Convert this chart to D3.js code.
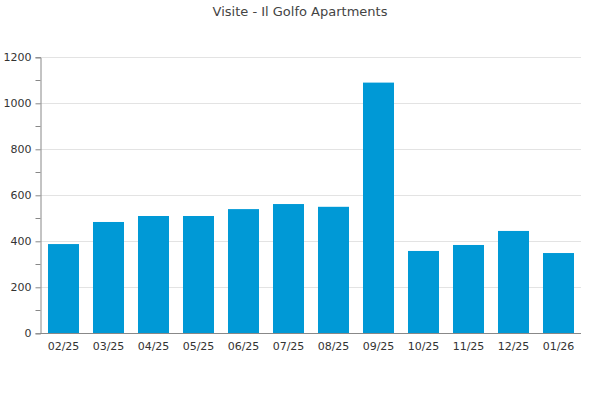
<!DOCTYPE html>
<html>
<head>
<meta charset="utf-8">
<script src="https://cdn.jsdelivr.net/npm/d3@7/dist/d3.min.js"></script>
<style>
  html, body { margin: 0; padding: 0; background: #fff; }
  svg { display: block; font-family: "DejaVu Sans", Verdana, sans-serif; }
</style>
</head>
<body>
<svg id="chart" width="600" height="400"></svg>
<script>
const categories = ["02/25","03/25","04/25","05/25","06/25","07/25","08/25","09/25","10/25","11/25","12/25","01/26"];
const visits = [388, 484, 510, 510, 540, 562, 550, 1090, 358, 384, 445, 349];
const yTicks = [0, 200, 400, 600, 800, 1000, 1200];
const yMinorTicks = [100, 300, 500, 700, 900, 1100];
const title = "Visite - Il Golfo Apartments";

(function () {
const svg = d3.select("#chart");
const pLeft = 41, pRight = 581, pTop = 57.3, pBottom = 333.3;

const x = d3.scaleBand().domain(categories).range([pLeft, pRight])
  .paddingInner(0.311).paddingOuter(0.1555);
const y = d3.scaleLinear().domain([0, 1200]).range([pBottom, pTop]);

// title
svg.append("text").attr("x", 300).attr("y", 16).attr("text-anchor", "middle")
  .attr("font-size", 13).attr("fill", "#444").text(title);

// gridlines
svg.append("g").selectAll("line").data(yTicks.filter(d => d > 0)).join("line")
  .attr("x1", 40).attr("x2", pRight).attr("y1", d => Math.round(y(d)) + 0.5).attr("y2", d => Math.round(y(d)) + 0.5)
  .attr("stroke", "#e3e3e3").attr("stroke-width", 1);

// bars
svg.append("g").selectAll("rect").data(visits).join("rect")
  .attr("x", (d, i) => x(categories[i]))
  .attr("width", x.bandwidth())
  .attr("y", d => y(d))
  .attr("height", d => y(0) - y(d))
  .attr("fill", "#0099d6");

// y axis
const yAxis = d3.axisLeft(y).tickValues(yTicks).tickSize(5).tickPadding(4).tickFormat(d3.format("d"));
const gy = svg.append("g").attr("transform", "translate(40.5,0)").call(yAxis);
gy.select(".domain").attr("stroke", "#888");
gy.selectAll(".tick line").attr("stroke", "#888");
gy.selectAll(".tick text").attr("font-size", 11).attr("fill", "#333")
  .attr("font-family", "DejaVu Sans, Verdana, sans-serif");
// minor ticks
gy.append("g").selectAll("line").data(yMinorTicks).join("line")
  .attr("x1", -5).attr("x2", 0).attr("y1", d => Math.round(y(d)) + 0.5).attr("y2", d => Math.round(y(d)) + 0.5)
  .attr("stroke", "#888");

// x axis
const xAxis = d3.axisBottom(x).tickSize(0).tickPadding(9);
const gx = svg.append("g").attr("transform", "translate(0," + (Math.round(pBottom) + 0.5) + ")").call(xAxis);
gx.select(".domain").attr("stroke", "#888").attr("d", "M40,0H" + pRight);
gx.selectAll(".tick text").attr("font-size", 11).attr("fill", "#333")
  .attr("font-family", "DejaVu Sans, Verdana, sans-serif");
})();
</script>
</body>
</html>
